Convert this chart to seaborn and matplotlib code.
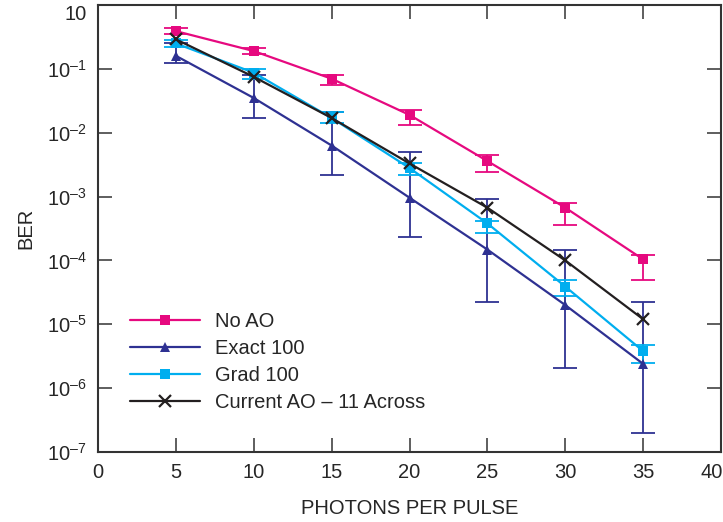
import numpy as np
import pandas as pd
import matplotlib
matplotlib.use("Agg")
import matplotlib.pyplot as plt
from matplotlib.lines import Line2D
import matplotlib.transforms as mtransforms
import seaborn as sns

# ---- data ----
photons = [5, 10, 15, 20, 25, 30, 35]

no_ao = [0.39, 0.19, 0.070, 0.019, 3.6e-3, 6.7e-4, 1.04e-4]
no_ao_hi = [0.44, 0.21, 0.081, 0.023, 4.4e-3, 8.0e-4, 1.23e-4]
no_ao_lo = [0.35, 0.17, 0.056, 0.0133, 2.4e-3, 3.6e-4, 5.0e-5]

exact = [0.16, 0.035, 0.0063, 9.6e-4, 1.48e-4, 2.0e-5, 2.4e-6]
exact_hi = [0.25, 0.081, 0.021, 4.9e-3, 9.0e-4, 1.44e-4, 2.2e-5]
exact_lo = [0.124, 0.017, 0.0022, 2.3e-4, 2.2e-5, 2.1e-6, 2.0e-7]

grad = [0.25, 0.087, 0.017, 2.8e-3, 3.8e-4, 3.9e-5, 3.8e-6]
grad_hi = [0.28, 0.10, 0.021, 3.4e-3, 4.2e-4, 4.9e-5, 4.7e-6]
grad_lo = [0.22, 0.07, 0.0144, 2.2e-3, 2.7e-4, 2.8e-5, 2.5e-6]

current = [0.29, 0.075, 0.017, 3.3e-3, 6.7e-4, 1.0e-4, 1.2e-5]

series_names = ["No AO", "Exact 100", "Grad 100", "Current AO \u2013 11 Across"]
x_ticks = [0, 5, 10, 15, 20, 25, 30, 35, 40]
y_ticks = [1e0, 1e-1, 1e-2, 1e-3, 1e-4, 1e-5, 1e-6, 1e-7]
y_tick_labels = ["10", "10$^{\u20131}$", "10$^{\u20132}$", "10$^{\u20133}$",
                 "10$^{\u20134}$", "10$^{\u20135}$", "10$^{\u20136}$", "10$^{\u20137}$"]

# ---- style ----
sns.set_style("ticks")
plt.rcParams["font.family"] = ["Liberation Sans", "DejaVu Sans"]
plt.rcParams["mathtext.fontset"] = "custom"
plt.rcParams["mathtext.rm"] = "Liberation Sans"
plt.rcParams["mathtext.it"] = "Liberation Sans"
plt.rcParams["mathtext.default"] = "regular"

FS = 14.5
colors = ["#e6097f", "#2e3192", "#00aeef", "#231f20"]
markers = ["s", "^", "s", "x"]
values = [no_ao, exact, grad, current]

fig = plt.figure(figsize=(7.23, 5.22), dpi=100)
ax = fig.add_axes([98 / 723, 70 / 522, 623 / 723, 447 / 522])

# error bars
err_sets = [
    (no_ao, no_ao_lo, no_ao_hi, colors[0]),
    (exact, exact_lo, exact_hi, colors[1]),
    (grad, grad_lo, grad_hi, colors[2]),
]
for vals, lo, hi, c in err_sets:
    v = np.array(vals)
    yerr = np.vstack([v - np.array(lo), np.array(hi) - v])
    ax.errorbar(photons, v, yerr=yerr, fmt="none", ecolor=c, elinewidth=1.3,
                capsize=8.5, capthick=1.3, zorder=2)

handles = []
for name, vals, c, m in zip(series_names, values, colors, markers):
    d = pd.DataFrame({"photons": photons, "BER": vals})
    kw = dict(marker=m, markersize=7.5, markeredgewidth=0, markerfacecolor=c)
    if m == "x":
        kw = dict(marker=m, markersize=8, markeredgewidth=1.6, markeredgecolor=c)
    sns.lineplot(data=d, x="photons", y="BER", color=c, linewidth=1.6, ax=ax,
                 zorder=3, **kw)
    handles.append(Line2D([], [], color=c, linewidth=1.6, **kw))

ax.set_yscale("log")
ax.set_xlim(0, 40)
ax.set_ylim(1e-7, 1e0)
ax.set_xticks(x_ticks)
ax.set_xticklabels([str(t) for t in x_ticks])
ax.set_yticks(y_ticks)
ax.set_yticklabels(y_tick_labels)
ax.yaxis.set_minor_locator(matplotlib.ticker.NullLocator())
ax.tick_params(axis="both", which="major", direction="in", length=10, width=1.1,
               labelsize=FS, color="#333333", top=True, right=True, pad=8)
for s in ax.spines.values():
    s.set_linewidth(1.5)
    s.set_color("#333333")

# last x label kept inside the figure, top y label nudged down like the reference
ax.get_xticklabels()[-1].set_horizontalalignment("right")
ax.get_xticklabels()[-1].set_transform(
    ax.get_xticklabels()[-1].get_transform() + mtransforms.ScaledTranslation(2 / 100, 0, fig.dpi_scale_trans))
top_lbl = ax.get_yticklabels()[0]
top_lbl.set_transform(top_lbl.get_transform() + mtransforms.ScaledTranslation(0, -8 / 100, fig.dpi_scale_trans))

ax.set_xlabel("PHOTONS PER PULSE", fontsize=FS, labelpad=12)
ax.set_ylabel("BER", fontsize=FS, labelpad=8)

ax.legend(handles, series_names, loc="center left", bbox_to_anchor=(0.051, 0.201),
          frameon=False, fontsize=FS, handlelength=3.5, handletextpad=0.75,
          labelspacing=0.4, borderpad=0, borderaxespad=0, numpoints=1)

fig.savefig("out.png", dpi=100)
